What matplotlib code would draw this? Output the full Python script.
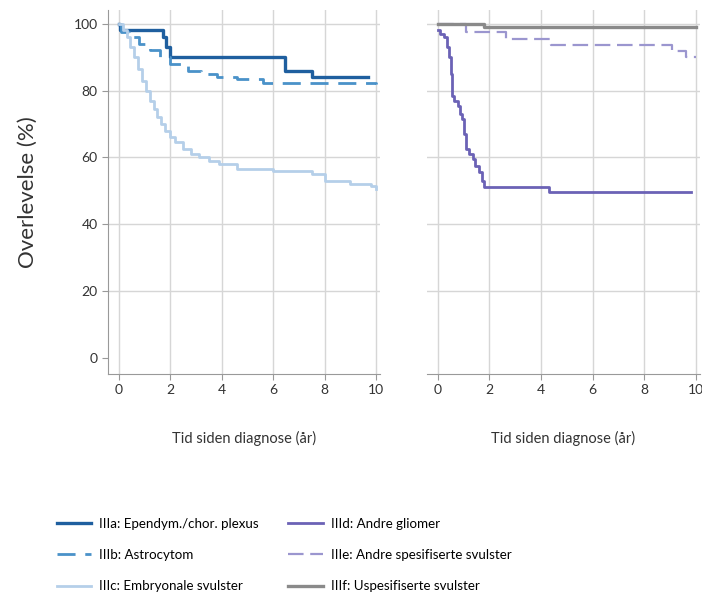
import matplotlib
matplotlib.use('Agg')
import matplotlib.pyplot as plt

plt.rcParams['font.family'] = ['Lato', 'DejaVu Sans']

# Left panel: years since diagnosis and survival (%)
a_t = [0, 0.05, 1.7, 1.85, 2.0, 6.45, 7.5, 9.7]
a_s = [100, 98, 96, 93, 90, 86, 84, 84]

b_t = [0, 0.1, 0.4, 0.8, 1.2, 1.6, 2.0, 2.7, 3.2, 3.8, 4.6, 5.6, 10]
b_s = [100, 97.5, 96, 94, 92, 90, 88, 86, 85, 84, 83.5, 82.3, 82]

c_t = [0, 0.15, 0.3, 0.45, 0.6, 0.75, 0.9, 1.05, 1.2, 1.35, 1.5, 1.65, 1.8,
       2.0, 2.2, 2.5, 2.8, 3.1, 3.5, 3.9, 4.6, 6.0, 7.0, 7.5, 8.0, 9.0, 9.8, 10]
c_s = [100, 98, 96, 93, 90, 86.5, 83, 80, 77, 74.5, 72, 70, 68,
       66, 64.5, 62.5, 61, 60, 59, 58, 56.5, 56, 55.8, 55, 53, 52, 51.5, 50.5]

# Right panel
d_t = [0, 0.1, 0.23, 0.35, 0.43, 0.5, 0.57, 0.65, 0.77, 0.85, 0.96, 1.02, 1.09,
       1.2, 1.35, 1.45, 1.6, 1.7, 1.8, 4.3, 9.8]
d_s = [98, 97, 96, 93, 90, 85, 78.5, 77, 75.5, 73, 71.5, 67, 62.5,
       61, 59.5, 57.5, 55.5, 53, 51, 49.5, 49.5]

e_t = [0, 1.1, 2.65, 4.4, 9.07, 9.6, 10]
e_s = [100, 97.4, 95.5, 93.7, 91.8, 90.2, 90.2]

f_t = [0, 1.8, 10]
f_s = [100, 99, 99]

labels = ['IIIa: Ependym./chor. plexus', 'IIIb: Astrocytom', 'IIIc: Embryonale svulster',
          'IIId: Andre gliomer', 'IIIe: Andre spesifiserte svulster', 'IIIf: Uspesifiserte svulster']

fig = plt.figure(figsize=(7.02, 6.08), dpi=100)
ax1 = fig.add_axes([0.154, 0.385, 0.387, 0.599])
ax2 = fig.add_axes([0.608, 0.385, 0.389, 0.599])

la, = ax1.step(a_t, a_s, where='post', color='#1f5f9f', lw=2.4)
lb, = ax1.step(b_t, b_s, where='post', color='#4a92c9', lw=2.0, ls=(0, (6.5, 3.5)))
lc, = ax1.step(c_t, c_s, where='post', color='#b5cfe9', lw=2.0)
ld, = ax2.step(d_t, d_s, where='post', color='#6b62b6', lw=2.0)
le, = ax2.step(e_t, e_s, where='post', color='#9b96cf', lw=1.6, ls=(0, (7, 3)))
lf, = ax2.step(f_t, f_s, where='post', color='#8a8a8a', lw=2.4)

for ax in (ax1, ax2):
    ax.set_xlim(-0.42, 10.15)
    ax.set_ylim(-4.8, 104.2)
    ax.set_xticks([0, 2, 4, 6, 8, 10])
    ax.set_yticks([0, 20, 40, 60, 80, 100])
    ax.grid(True, color='#d6d6d6', lw=1.0)
    ax.get_ygridlines()[0].set_visible(False)
    ax.set_axisbelow(True)
    for s in ['top', 'right']:
        ax.spines[s].set_visible(False)
    for s in ['left', 'bottom']:
        ax.spines[s].set_color('#999999')
    ax.tick_params(colors='#999999', labelcolor='#333333', labelsize=10, length=4)
    ax.set_xlabel('Tid siden diagnose (år)', fontsize=10.5, color='#333333', labelpad=25)

ax2.spines['left'].set_visible(False)
ax2.tick_params(axis='y', left=False, labelleft=False)
ax1.set_ylabel('Overlevelse (%)', fontsize=16, color='#333333', labelpad=26)

fig.legend([la, lb, lc, ld, le, lf], labels, ncol=2, loc='center',
           bbox_to_anchor=(0.405, 0.087), frameon=False, fontsize=9.6,
           handlelength=2.6, handletextpad=0.6, columnspacing=2.2,
           labelspacing=1.45)

plt.savefig('out.png', dpi=100)
